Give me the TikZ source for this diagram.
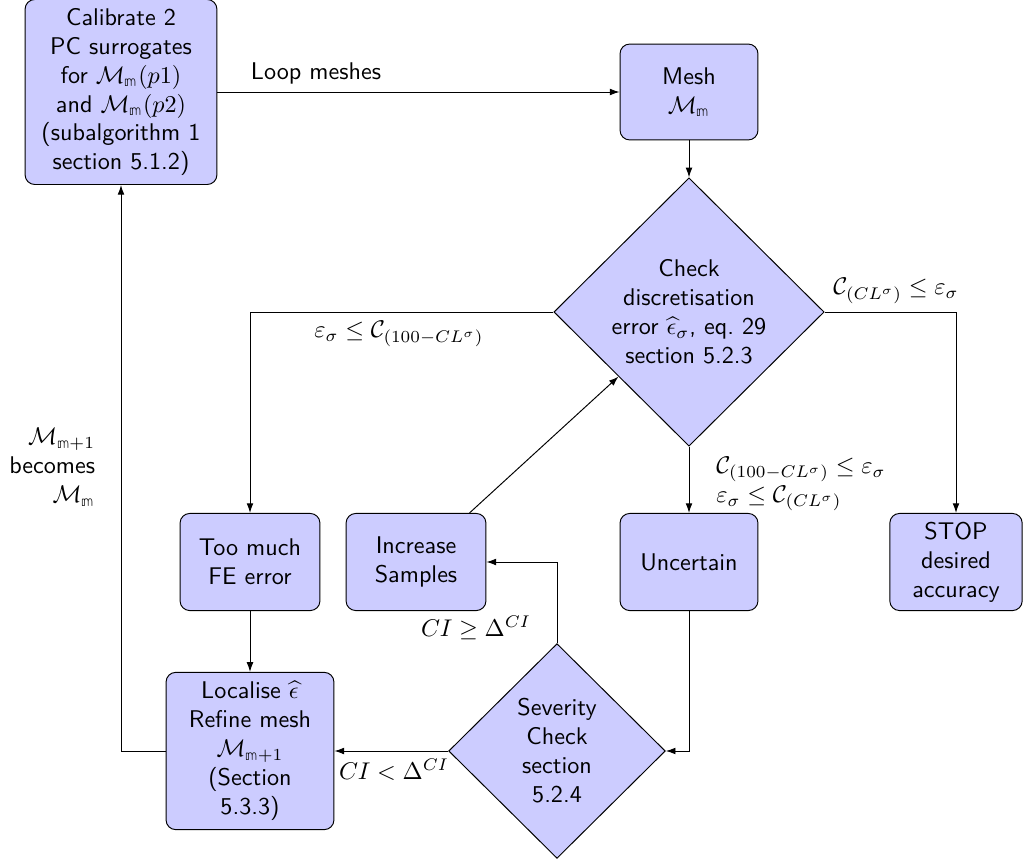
\documentclass[tikz,border=0pt]{standalone}
\usepackage{amsmath,amssymb}
\usepackage{fontspec}
\newfontfamily\lmmath{latinmodern-math.otf}
\usetikzlibrary{shapes.geometric,arrows.meta}
\newcommand{\mm}{\text{\lmmath\symbol{"1D55E}}}
\tikzset{
  boxnode/.style={draw, fill=blue!20, rounded corners=4pt, align=center, font=\sffamily, inner sep=2pt},
  decnode/.style={draw, fill=blue!20, diamond, aspect=1, align=center, font=\sffamily, inner sep=0pt},
  conn/.style={draw, -{Latex[length=4pt,width=2.8pt]}},
  lbl/.style={font=\sffamily, inner sep=1pt}
}
\begin{document}
\begin{tikzpicture}[x=0.414pt, y=-0.414pt]
\useasboundingbox (0,0) rectangle (1023,860);
\node[boxnode, minimum width=79.4pt, minimum height=76.6pt] (cal) at (121,92)
  {Calibrate 2\\PC surrogates\\for $\mathcal{M}_{\mm}(p1)$\\and $\mathcal{M}_{\mm}(p2)$\\(subalgorithm 1\\section 5.1.2)};
\node[boxnode, minimum width=57.1pt, minimum height=39.7pt] (mesh) at (689,92) {Mesh\\$\mathcal{M}_{\mm}$};
\node[decnode, minimum width=111.9pt, minimum height=111.1pt] (check) at (689,312)
  {Check\\discretisation\\error $\widehat{\epsilon}_\sigma$, eq.~29\\section 5.2.3};
\node[boxnode, minimum width=57.9pt, minimum height=40.2pt] (too) at (250,562) {Too much\\FE error};
\node[boxnode, minimum width=57.9pt, minimum height=40.2pt] (inc) at (416,562) {Increase\\Samples};
\node[boxnode, minimum width=57.1pt, minimum height=40.2pt] (unc) at (689,562) {Uncertain};
\node[boxnode, minimum width=54.8pt, minimum height=40.2pt] (stop) at (956,562) {STOP\\desired\\accuracy};
\node[boxnode, minimum width=69.5pt, minimum height=65.1pt] (loc) at (250,751)
  {Localise $\widehat{\epsilon}$\\Refine mesh\\$\mathcal{M}_{\mm+1}$\\(Section\\5.3.3)};
\node[decnode, minimum width=89.7pt, minimum height=88.9pt] (sev) at (557,751)
  {Severity\\Check\\section\\5.2.4};

\draw[conn] (cal.east) -- (mesh.west);
\node[lbl] (lloop) at (316,73) {Loop meshes};
\draw[conn] (mesh.south) -- (check.north);
\draw[conn] (check.west) -| (too.north);
\node[lbl] (lleft) at (399,334) {$\varepsilon_\sigma \leq \mathcal{C}_{(100-CL^\sigma)}$};
\draw[conn] (check.east) -| (stop.north);
\node[lbl] (lright) at (896,291) {$\mathcal{C}_{(CL^\sigma)} \leq \varepsilon_\sigma$};
\draw[conn] (check.south) -- (unc.north);
\node[lbl, align=left] (lmid) at (801,484) {$\mathcal{C}_{(100-CL^\sigma)} \leq \varepsilon_\sigma$\\$\varepsilon_\sigma \leq \mathcal{C}_{(CL^\sigma)}$};
\draw[conn] (unc.south) |- (sev.east);
\draw[conn] (sev.north) |- (inc.east);
\node[lbl] (lge) at (476,628) {$CI \geq \Delta^{CI}$};
\draw[conn] (sev.west) -- (loc.east);
\node[lbl] (llt) at (394,770) {$CI < \Delta^{CI}$};
\draw[conn] (inc) -- (check);
\draw[conn] (too.south) -- (loc.north);
\draw[conn] (loc.west) -| (cal.south);
\node[lbl, align=right, anchor=east] (lbec) at (98,467) {$\mathcal{M}_{\mm+1}$\\becomes\\$\mathcal{M}_{\mm}$};
\end{tikzpicture}
\end{document}
